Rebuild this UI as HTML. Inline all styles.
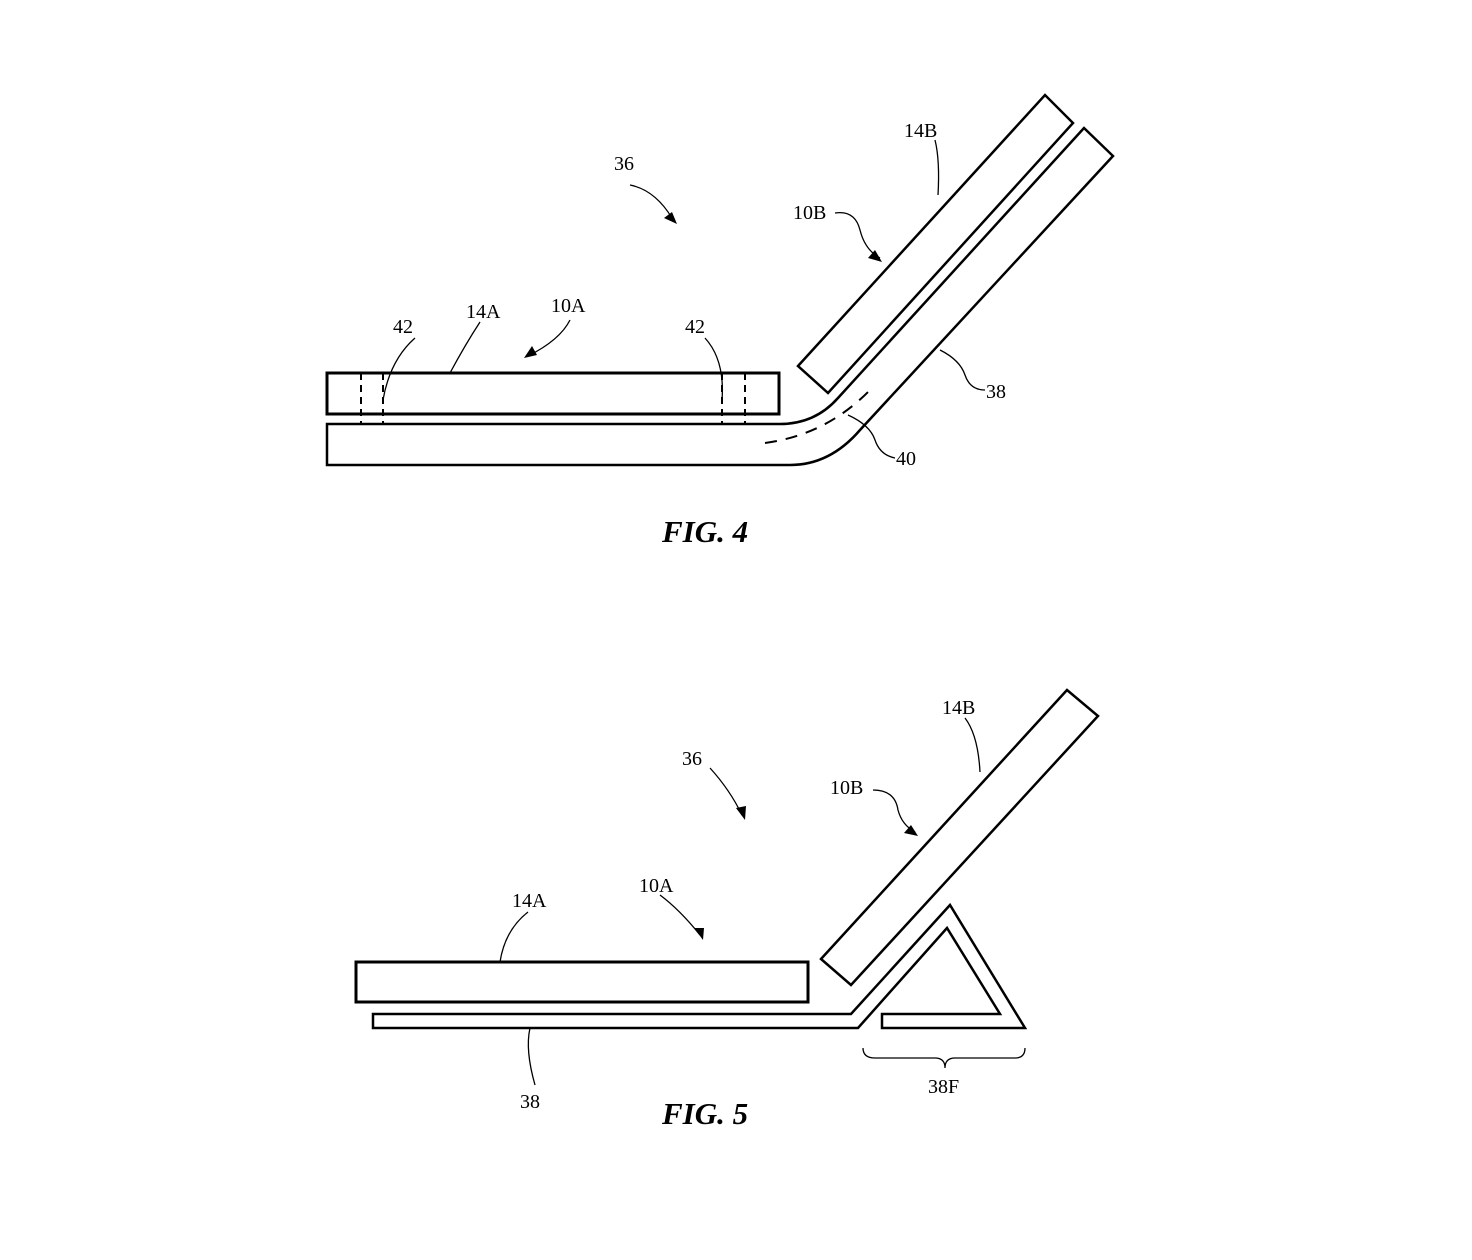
<!DOCTYPE html>
<html><head><style>body{margin:0;background:#fff}svg{display:block}</style></head><body>
<svg width="1472" height="1260" viewBox="0 0 1472 1260" xmlns="http://www.w3.org/2000/svg" font-family="Liberation Serif, serif" font-size="20" fill="none" stroke="#000">
<g stroke-width="2.5">
<rect x="327" y="373" width="452" height="41" stroke-width="3"/>
<polygon points="798,366 1045,95 1073,123 828,393"/>
<path d="M327,424 L780,424 Q815,424 838,398 L1084,128 L1113,156 L860,430 Q830,465 790,465 L327,465 Z"/>
</g>
<g stroke-width="2" stroke-dasharray="7,5">
<line x1="361" y1="373" x2="361" y2="424"/><line x1="383" y1="373" x2="383" y2="424"/>
<line x1="722" y1="373" x2="722" y2="424"/><line x1="745" y1="373" x2="745" y2="424"/>
<path d="M765,443 Q825,435 868,392" stroke-dasharray="12,9"/>
</g>
<g stroke-width="1.3">
<path d="M630,185 Q655,190 672,218"/>
<path d="M415,338 Q390,360 383,400"/>
<path d="M705,338 Q725,360 722,400"/>
<path d="M480,322 Q465,345 450,373"/>
<path d="M570,320 Q560,340 528,356"/>
<path d="M835,213 Q855,210 860,230 Q865,250 880,258"/>
<path d="M935,140 Q940,160 938,195"/>
<path d="M940,350 Q960,360 965,375 Q970,390 985,390"/>
<path d="M848,415 Q870,425 875,440 Q880,455 895,458"/>
</g>
<g fill="#000" stroke="none">
<polygon points="677,224 664,218 672,212"/>
<polygon points="524,358 532,346 537,355"/>
<polygon points="882,262 868,258 875,250"/>
</g>
<g fill="#000" stroke="none">
<text x="614" y="170">36</text>
<text x="393" y="333">42</text>
<text x="466" y="318">14A</text>
<text x="551" y="312">10A</text>
<text x="685" y="333">42</text>
<text x="793" y="219">10B</text>
<text x="904" y="137">14B</text>
<text x="986" y="398">38</text>
<text x="896" y="465">40</text>
<text x="662" y="542" font-size="31" font-weight="bold" font-style="italic">FIG. 4</text>
</g>
<g stroke-width="2.5">
<rect x="356" y="962" width="452" height="40" stroke-width="3"/>
<polygon points="821,959 1067,690 1098,716 851,985"/>
<polygon points="373,1014 851,1014 950,905 1025,1028 882,1028 882,1014 1000,1014 947,928 858,1028 373,1028"/>
</g>
<g stroke-width="1.3">
<path d="M710,768 Q730,790 742,815"/>
<path d="M528,912 Q505,930 500,962"/>
<path d="M660,895 Q680,910 700,935"/>
<path d="M873,790 Q895,790 898,810 Q902,825 915,832"/>
<path d="M965,718 Q978,735 980,772"/>
<path d="M530,1028 Q525,1050 535,1085"/>
<path d="M863,1048 Q863,1058 875,1058 L935,1058 Q945,1058 945,1068 Q945,1058 955,1058 L1015,1058 Q1025,1058 1025,1048"/>
</g>
<g fill="#000" stroke="none">
<polygon points="745,820 736,808 746,806"/>
<polygon points="703,940 694,928 704,928"/>
<polygon points="918,836 904,833 911,825"/>
<text x="682" y="765">36</text>
<text x="512" y="907">14A</text>
<text x="639" y="892">10A</text>
<text x="830" y="794">10B</text>
<text x="942" y="714">14B</text>
<text x="520" y="1108">38</text>
<text x="928" y="1093">38F</text>
<text x="662" y="1124" font-size="31" font-weight="bold" font-style="italic">FIG. 5</text>
</g>
</svg>
</body></html>
